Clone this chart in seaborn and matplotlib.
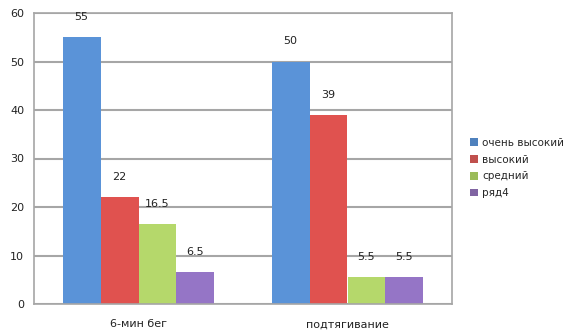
import matplotlib
matplotlib.use("Agg")
import matplotlib.pyplot as plt
import seaborn as sns
import pandas as pd
from matplotlib.patches import Patch

categories = ["6-мин бег", "подтягивание"]
series = ["очень высокий", "высокий", "средний", "ряд4"]
values = {
    "очень высокий": [55, 50],
    "высокий": [22, 39],
    "средний": [16.5, 5.5],
    "ряд4": [6.5, 5.5],
}
yticks = [0, 10, 20, 30, 40, 50, 60]

bar_colors = ["#5A93D8", "#E0524F", "#B5D86B", "#9575C6"]
leg_colors = ["#4F81BD", "#C0504D", "#9BBB59", "#8064A2"]

rows = []
for s in series:
    for c, v in zip(categories, values[s]):
        rows.append({"cat": c, "series": s, "value": v})
df = pd.DataFrame(rows)

sns.set_theme(style="white")
plt.rcParams["font.family"] = ["DejaVu Sans"]

fig = plt.figure(figsize=(5.76, 3.36), dpi=100)
ax = fig.add_axes([34/576, 32/336, (452-34)/576, (304-13)/336])

sns.barplot(data=df, x="cat", y="value", hue="series", order=categories,
            hue_order=series, palette=bar_colors, width=0.727, ax=ax,
            saturation=1, edgecolor="none", legend=True)

ax.set_ylim(0, 60)
ax.set_xlim(-0.5, 1.5)
ax.set_yticks(yticks)
ax.set_yticklabels([str(t) for t in yticks], fontsize=8, color="#222222")
ax.tick_params(axis="x", labelsize=8, colors="#222222", length=0, pad=11)
ax.tick_params(axis="y", length=3, width=1, color="#999999", pad=4)
ax.set_xlabel("")
ax.set_ylabel("")
ax.yaxis.grid(True, color="#A6A6A6", linewidth=1.5)
ax.set_axisbelow(True)
for sp in ax.spines.values():
    sp.set_color("#A6A6A6")
    sp.set_linewidth(1.2)

for cont in ax.containers:
    labels = [f"{b.get_height():g}" for b in cont]
    ax.bar_label(cont, labels=labels, padding=11, fontsize=8, color="#222222")

handles = [Patch(facecolor=c, edgecolor="none") for c in leg_colors]
ax.legend(handles, series, loc="center left", bbox_to_anchor=(461/576, 168/336),
          bbox_transform=fig.transFigure, frameon=False, fontsize=7.5,
          handlelength=0.75, handleheight=0.75, handletextpad=0.4, labelspacing=0.65)

fig.savefig("out.png", dpi=100)
